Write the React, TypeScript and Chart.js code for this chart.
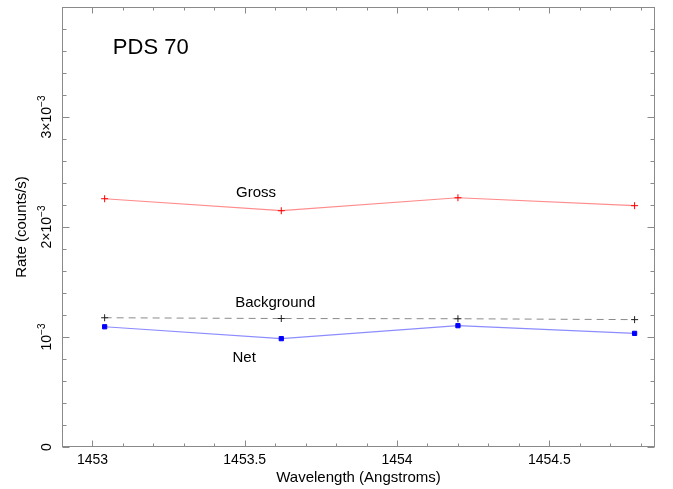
import React, { useEffect, useRef } from "react";
import { Chart, registerables } from "chart.js";

Chart.register(...registerables);

// ---- data ----
const wavelengths = [1453.04, 1453.62, 1454.2, 1454.78];
const grossRate = [2.257e-3, 2.148e-3, 2.266e-3, 2.194e-3];
const backgroundRate = [1.175e-3, 1.168e-3, 1.166e-3, 1.158e-3];
const netRate = [1.093e-3, 0.985e-3, 1.103e-3, 1.033e-3];

const xMin = 1452.9;
const xMax = 1454.847;
const yMin = 0;
const yMax = 4e-3;

const xTickValues = [1453, 1453.5, 1454, 1454.5];
const xMinorStep = 0.1;
const yTickValues = [0, 1e-3, 2e-3, 3e-3];
const yTickBases = ["0", "10", "2\u00d710", "3\u00d710"];
const yTickExponents = ["", "\u22123", "\u22123", "\u22123"];
const yMinorStep = 0.2e-3;

const annotationTexts = ["PDS 70", "Gross", "Background", "Net"];
const annotationX = [1453.067, 1453.537, 1453.6, 1453.498];
const annotationY = [3.63e-3, 2.312e-3, 1.312e-3, 0.812e-3];
const annotationSizes = [22, 15, 15, 15];
const annotationAlign: CanvasTextAlign[] = ["left", "center", "center", "center"];

const FONT = "'Liberation Sans', Arial, Helvetica, sans-serif";
const FRAME = "#8a8a8a";

const framePlugin = {
  id: "frameTicks",
  afterDraw(chart: any) {
    const ctx = chart.ctx as CanvasRenderingContext2D;
    const a = chart.chartArea;
    const xs = chart.scales.x;
    const ys = chart.scales.y;
    ctx.save();
    ctx.strokeStyle = FRAME;
    ctx.lineWidth = 1;
    const L = Math.round(a.left) + 0.5;
    const R = Math.round(a.right) - 0.5;
    const T = Math.round(a.top) + 0.5;
    const B = Math.round(a.bottom) - 0.5;
    ctx.strokeRect(L, T, R - L, B - T);
    ctx.beginPath();
    // x ticks
    for (let i = 0; ; i++) {
      const v = Math.round((xMin + i * xMinorStep) * 10) / 10;
      if (v > xMax) break;
      if (v < xMin) continue;
      const major = xTickValues.some((t) => Math.abs(t - v) < 1e-6);
      const len = major ? 6 : 3;
      const px = Math.round(xs.getPixelForValue(v)) + 0.5;
      ctx.moveTo(px, B);
      ctx.lineTo(px, B - len);
      ctx.moveTo(px, T);
      ctx.lineTo(px, T + len);
    }
    // y ticks
    for (let i = 0; ; i++) {
      const v = yMin + i * yMinorStep;
      if (v > yMax + 1e-9) break;
      const major = yTickValues.some((t) => Math.abs(t - v) < 1e-9) || Math.abs(v - yMax) < 1e-9;
      const len = major ? 7 : 4;
      const py = Math.round(ys.getPixelForValue(v)) + 0.5;
      ctx.moveTo(L, py);
      ctx.lineTo(L + len, py);
      ctx.moveTo(R, py);
      ctx.lineTo(R - len, py);
    }
    ctx.stroke();

    // y tick labels, rotated
    ctx.fillStyle = "#000";
    ctx.textBaseline = "middle";
    yTickValues.forEach((v, i) => {
      const py = ys.getPixelForValue(v);
      ctx.save();
      ctx.translate(47, py);
      ctx.rotate(-Math.PI / 2);
      ctx.font = `14px ${FONT}`;
      const bw = ctx.measureText(yTickBases[i]).width;
      ctx.font = `10px ${FONT}`;
      const ew = yTickExponents[i] ? ctx.measureText(yTickExponents[i]).width : 0;
      const start = -(bw + ew) / 2;
      ctx.textAlign = "left";
      ctx.font = `14px ${FONT}`;
      ctx.fillText(yTickBases[i], start, 0);
      if (yTickExponents[i]) {
        ctx.font = `10px ${FONT}`;
        ctx.fillText(yTickExponents[i], start + bw, -5);
      }
      ctx.restore();
    });

    // annotations
    annotationTexts.forEach((t, i) => {
      ctx.font = `${annotationSizes[i]}px ${FONT}`;
      ctx.textAlign = annotationAlign[i];
      ctx.textBaseline = "middle";
      ctx.fillStyle = "#000";
      ctx.fillText(t, xs.getPixelForValue(annotationX[i]), ys.getPixelForValue(annotationY[i]));
    });
    ctx.restore();
  },
};

export default function App() {
  const ref = useRef<HTMLCanvasElement | null>(null);
  useEffect(() => {
    if (!ref.current) return;
    const chart = new Chart(ref.current, {
      type: "line",
      data: {
        datasets: [
          {
            label: "Gross",
            data: wavelengths.map((x, i) => ({ x, y: grossRate[i] })),
            borderColor: "#ff8c8c",
            borderWidth: 1.2,
            pointStyle: "cross",
            pointRadius: 3.5,
            pointBorderColor: "#ff0000",
            pointBorderWidth: 1,
            tension: 0,
            fill: false,
          },
          {
            label: "Background",
            data: wavelengths.map((x, i) => ({ x, y: backgroundRate[i] })),
            borderColor: "#8a8a8a",
            borderWidth: 1,
            borderDash: [7, 5],
            pointStyle: "cross",
            pointRadius: 3.5,
            pointBorderColor: "#222",
            pointBorderWidth: 1,
            tension: 0,
            fill: false,
          },
          {
            label: "Net",
            data: wavelengths.map((x, i) => ({ x, y: netRate[i] })),
            borderColor: "#8c8cff",
            borderWidth: 1.2,
            pointStyle: "rect",
            pointRadius: 3,
            pointBackgroundColor: "#0000ff",
            pointBorderColor: "#0000ff",
            pointBorderWidth: 1,
            tension: 0,
            fill: false,
          },
        ],
      },
      options: {
        responsive: false,
        animation: false,
        devicePixelRatio: 1,
        layout: { padding: { left: 0, right: 18, top: 7, bottom: 0 } },
        plugins: { legend: { display: false }, tooltip: { enabled: false } },
        scales: {
          x: {
            type: "linear",
            min: xMin,
            max: xMax,
            grid: { display: false, drawTicks: false },
            border: { display: false },
            afterBuildTicks: (s: any) => {
              s.ticks = xTickValues.map((v) => ({ value: v }));
            },
            afterFit: (s: any) => {
              s.height = 42;
            },
            ticks: {
              color: "#000",
              font: { family: FONT, size: 14 },
              padding: 5,
              maxRotation: 0,
              autoSkip: false,
              callback: (v: any) => String(v),
            },
            title: {
              display: true,
              text: "Wavelength (Angstroms)",
              color: "#000",
              font: { family: FONT, size: 15 },
              padding: { top: 0, bottom: 2 },
            },
          },
          y: {
            type: "linear",
            min: yMin,
            max: yMax,
            grid: { display: false, drawTicks: false },
            border: { display: false },
            afterBuildTicks: (s: any) => {
              s.ticks = yTickValues.map((v) => ({ value: v }));
            },
            afterFit: (s: any) => {
              s.width = 62;
            },
            ticks: { display: false },
            title: {
              display: true,
              text: "Rate (counts/s)",
              color: "#000",
              font: { family: FONT, size: 15 },
              padding: { top: 13, bottom: 0 },
            },
          },
        },
      },
      plugins: [framePlugin],
    } as any);
    return () => chart.destroy();
  }, []);
  return (
    <div style={{ position: "fixed", left: 0, top: 0, width: 673, height: 489, background: "#fff" }}>
      <canvas ref={ref} width={673} height={489} style={{ display: "block" }} />
    </div>
  );
}
